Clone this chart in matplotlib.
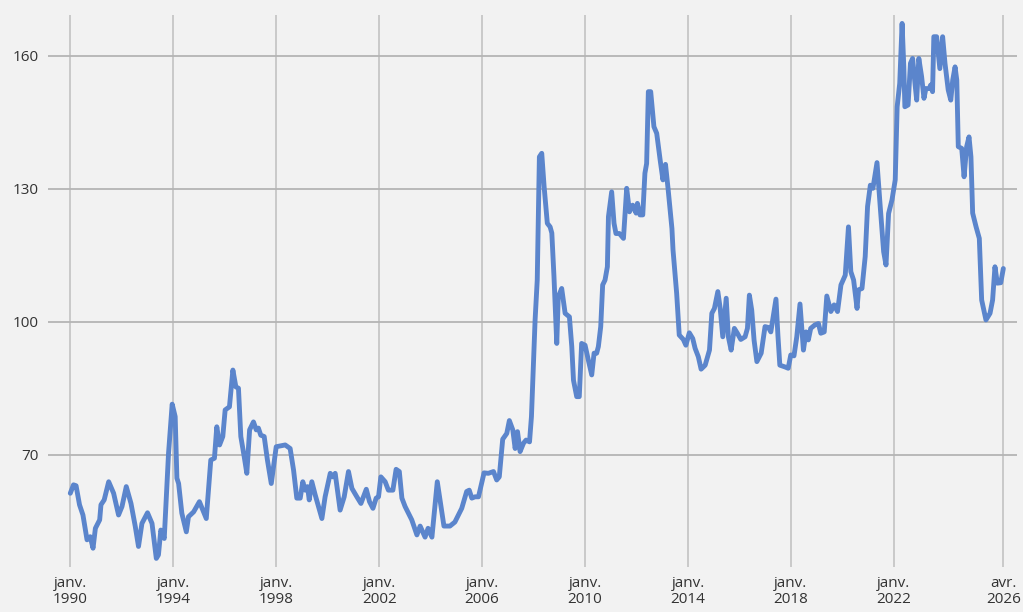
import matplotlib
matplotlib.use("Agg")
import matplotlib.pyplot as plt

# months elapsed since janv. 1990, and index value
months = [
    0, 1.5, 2.7, 4.3, 5.9, 7.8, 9.3, 10.6, 11.7, 13.7, 14.3, 15.8, 17.9, 20.2,
    22.5, 24.1, 26.1, 28.3, 30.3, 31.8, 33.4, 36.0, 38.1, 40.1, 41.1, 42.2,
    43.8, 45.8, 47.5, 48.9, 49.7, 50.5, 52.0, 54.1, 55.1, 57.5, 60.2, 63.4,
    65.5, 67.2, 68.3, 69.6, 71.1, 72.2, 74.2, 75.8, 77.2, 78.4, 79.5, 81.1,
    82.3, 83.6, 85.4, 86.7, 87.7, 88.8, 90.4, 91.9, 93.7, 96.0, 100.2, 102.5,
    104.1, 105.6, 107.2, 108.4, 109.5, 110.6, 111.4, 112.6, 114.2, 115.7,
    117.3, 118.8, 121.2, 122.4, 123.5, 125.8, 127.7, 129.7, 131.3, 133.6,
    135.5, 138.0, 139.5, 141.1, 142.6, 143.7, 144.8, 146.8, 148.3, 150.4,
    151.9, 153.4, 154.6, 156.1, 159.2, 161.6, 163.1, 165.4, 166.8, 168.6,
    171.1, 173.1, 174.2, 177.0, 179.3, 182.5, 184.8, 186.0, 187.2, 188.7,
    190.3, 192.9, 194.9, 197.3, 198.8, 200.0, 201.6, 203.5, 204.7, 206.3,
    207.4, 208.5, 209.7, 211.3, 212.5, 214.1, 215.0, 216.7, 217.7, 218.7,
    219.8, 220.9, 222.4, 223.7, 224.5, 225.5, 226.8, 227.5, 229.1, 230.7,
    232.7, 233.8, 234.6, 236.1, 237.3, 238.4, 240.0, 241.5, 243.1, 244.2,
    245.4, 246.2, 247.3, 248.2, 249.3, 250.4, 250.9, 252.4, 253.5, 254.4,
    256.0, 257.9, 259.4, 260.7, 262.2, 263.8, 264.4, 265.6, 266.9, 267.9,
    268.7, 269.5, 270.6, 272.1, 273.4, 275.0, 276.3, 277.5, 278.7, 280.5,
    281.0, 282.7, 283.9, 285.8, 287.0, 288.6, 290.2, 291.3, 292.8, 294.1,
    296.0, 298.0, 299.1, 300.3, 301.9, 303.0, 304.2, 305.8, 306.8, 308.1,
    309.6, 311.0, 312.6, 314.6, 315.7, 316.6, 317.7, 318.8, 320.1, 322.1,
    323.9, 325.5, 326.6, 327.7, 329.0, 329.9, 330.8, 333.2, 334.7, 335.9,
    337.4, 338.7, 340.2, 341.8, 343.0, 344.1, 345.2, 347.2, 348.8, 349.9,
    351.5, 352.7, 354.6, 356.1, 357.7, 359.3, 361.3, 362.8, 363.9, 365.2,
    366.8, 367.5, 369.1, 370.6, 371.7, 373.0, 374.2, 376.1, 377.6, 379.2,
    380.3, 381.5, 383.1, 384.6, 385.5, 386.7, 387.8, 388.6, 389.1, 390.6,
    391.7, 392.7, 393.8, 394.6, 395.6, 396.9, 398.0, 398.9, 400.5, 401.1,
    402.0, 402.6, 403.9, 405.4, 406.7, 407.8, 409.3, 410.5, 411.4, 412.5,
    413.3, 414.0, 415.6, 416.7, 417.9, 419.0, 419.9, 420.7, 422.3, 423.8,
    424.9, 426.9, 428.8, 430.0, 431.1, 432.2, 433.8, 435.0,
]
values = [
    61.3, 63.2, 63.0, 58.7, 56.4, 50.8, 51.5, 48.9, 53.4, 55.3, 58.7, 59.8,
    63.9, 61.3, 56.4, 58.3, 62.8, 59.0, 53.8, 49.3, 54.5, 56.9, 54.5, 46.6,
    47.4, 53.0, 51.1, 70.3, 81.4, 78.6, 64.7, 63.5, 56.8, 52.6, 56.0, 57.1,
    59.4, 55.6, 68.8, 69.2, 76.3, 72.2, 74.1, 80.1, 80.8, 89.1, 85.3, 85.0,
    74.1, 69.5, 65.8, 75.6, 77.4, 75.6, 76.0, 74.4, 74.1, 68.8, 63.5, 71.8,
    72.2, 71.4, 66.5, 60.2, 60.2, 63.9, 62.0, 62.8, 59.8, 63.9, 60.9, 58.3,
    55.6, 60.5, 65.8, 65.0, 65.8, 57.5, 60.5, 66.2, 62.4, 60.5, 59.0, 62.2,
    59.4, 57.9, 60.2, 60.5, 65.0, 63.9, 62.0, 62.0, 66.7, 66.2, 60.2, 58.3,
    55.3, 51.9, 53.9, 51.4, 53.4, 51.4, 63.9, 57.5, 53.9, 53.9, 54.8, 57.9,
    61.7, 62.0, 60.2, 60.5, 60.5, 65.9, 65.8, 66.2, 64.3, 65.0, 73.5, 74.8,
    77.7, 75.6, 71.4, 75.2, 70.7, 72.6, 73.3, 72.9, 78.6, 100.4, 109.4,
    137.2, 138.0, 130.5, 122.2, 121.4, 120.0, 110.2, 95.1, 105.6, 107.5,
    101.9, 101.1, 94.4, 86.8, 83.1, 83.1, 95.1, 94.7, 91.4, 88.0, 92.9, 92.9,
    94.4, 98.9, 108.3, 109.4, 112.4, 123.7, 129.3, 122.2, 119.9, 119.9,
    118.8, 130.1, 124.8, 126.3, 124.5, 126.7, 124.1, 124.1, 133.5, 135.7,
    151.9, 151.9, 144.0, 142.5, 136.5, 132.0, 135.5, 130.0, 121.0, 116.2,
    106.4, 97.0, 96.0, 94.7, 97.5, 96.2, 94.0, 92.1, 89.3, 90.2, 93.6, 101.9,
    103.0, 106.8, 103.0, 96.6, 105.3, 96.6, 93.6, 98.5, 97.4, 96.0, 96.6,
    98.5, 106.0, 102.6, 95.8, 91.0, 92.9, 98.9, 98.7, 97.7, 101.1, 105.1,
    97.0, 90.2, 89.8, 89.5, 92.5, 92.3, 96.6, 104.0, 93.6, 97.7, 95.9, 98.5,
    99.3, 99.6, 97.4, 97.7, 105.8, 102.3, 103.8, 102.3, 108.3, 110.5, 121.4,
    111.3, 109.4, 103.0, 107.2, 107.5, 114.7, 126.0, 130.8, 130.1, 135.9,
    126.0, 115.8, 112.8, 124.4, 127.5, 132.0, 148.5, 153.8, 167.3, 157.5,
    148.5, 148.9, 158.3, 159.4, 153.8, 150.0, 159.4, 155.3, 150.4, 152.6,
    152.6, 153.4, 151.9, 164.3, 164.3, 157.1, 164.3, 158.3, 152.3, 150.0,
    154.5, 157.5, 154.5, 139.5, 139.1, 132.7, 139.5, 141.7, 137.2, 124.5,
    121.4, 118.8, 104.9, 100.4, 101.9, 104.9, 112.4, 108.7, 108.8, 112.0,
]

tick_months = [0, 48, 96, 144, 192, 240, 288, 336, 384, 435]
tick_labels = ["janv.\n1990", "janv.\n1994", "janv.\n1998", "janv.\n2002",
               "janv.\n2006", "janv.\n2010", "janv.\n2014", "janv.\n2018",
               "janv.\n2022", "avr.\n2026"]
y_ticks = [70, 100, 130, 160]

bg = "#f2f2f2"
plt.rcParams["font.family"] = ["Open Sans", "DejaVu Sans"]

fig = plt.figure(figsize=(10.23, 6.12), dpi=100, facecolor=bg)
ax = fig.add_axes([0.0472, 0.074, 0.9472, 0.9015])
ax.set_facecolor(bg)

ax.plot(months, values, color="#5b85cc", lw=3.5, solid_joinstyle="round",
        solid_capstyle="round", zorder=3)

ax.set_xlim(-10.26, 441.5)
ax.set_ylim(44.73, 169.2)

ax.set_xticks(tick_months)
ax.set_xticklabels(tick_labels, fontsize=11, color="#333333", linespacing=1.05)
ax.set_yticks(y_ticks)
ax.set_yticklabels([str(t) for t in y_ticks], fontsize=11, color="#333333")
ax.tick_params(axis="both", length=0)
ax.tick_params(axis="x", pad=7)
ax.tick_params(axis="y", pad=7)

ax.grid(axis="x", color="#c6c6c6", lw=1.3)
ax.grid(axis="y", color="#b4b4b4", lw=1.3)
ax.set_axisbelow(True)
for s in ax.spines.values():
    s.set_visible(False)

fig.savefig("out.png", dpi=100, facecolor=bg)
